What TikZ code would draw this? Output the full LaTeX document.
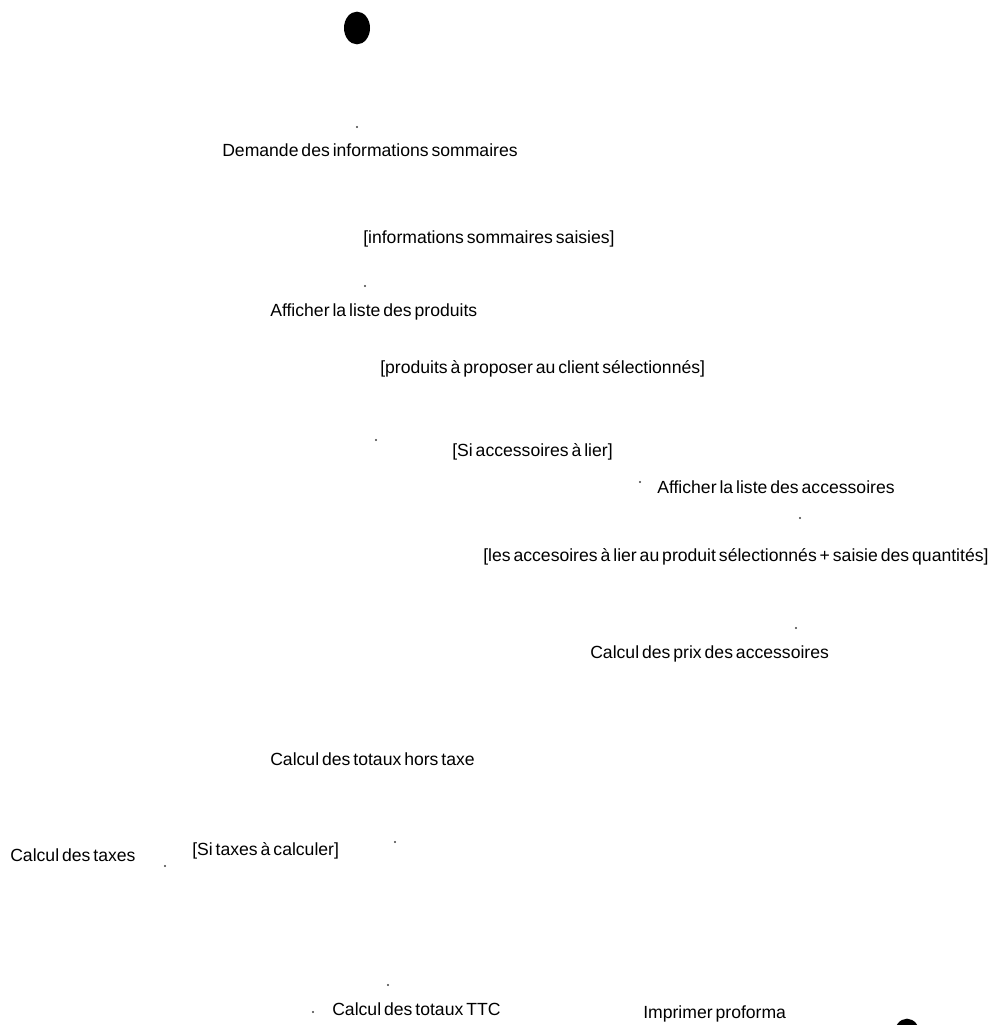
\documentclass[tikz,border=0pt]{standalone}
\usepackage{fontspec}
\setmainfont{Liberation Sans}[WordSpace=0.6]
\usetikzlibrary{shapes.geometric}
\begin{document}
\begin{tikzpicture}[x=0.75pt, y=-0.75pt,
  lbl/.style={anchor=mid west, inner sep=0pt, font=\fontsize{13.2}{15}\selectfont},
  pin/.style={circle, fill=black!75, inner sep=0pt, minimum size=1.6pt},
  terminal/.style={ellipse, fill=black, inner sep=0pt, minimum width=19.5pt, minimum height=24.5pt}]
\useasboundingbox (0,0) rectangle (994,1025);
\clip (0,0) rectangle (994,1025);

% initial state
\node[terminal] (start) at (357,28) {};

% request of summary information
\node[pin] (p1) at (357,127) {};
\node[lbl] (demande) at (222,153) {Demande des informations sommaires};
\node[lbl] (g1) at (363,240) {[informations sommaires saisies]};

% product list
\node[pin] (p2) at (365,286) {};
\node[lbl] (produits) at (270,313) {Afficher la liste des produits};
\node[lbl] (g2) at (380,370) {[produits à proposer au client sélectionnés]};

% accessories
\node[pin] (p3) at (376,440) {};
\node[lbl] (g3) at (452,453) {[Si accessoires à lier]};
\node[pin] (p4) at (640,482) {};
\node[lbl] (accessoires) at (657,490) {Afficher la liste des accessoires};
\node[pin] (p5) at (800,518) {};
\node[lbl] (g4) at (483,558) {[les accesoires à lier au produit sélectionnés + saisie des quantités]};
\node[pin] (p6) at (796,628) {};
\node[lbl] (prix) at (590,655) {Calcul des prix des accessoires};

% totals
\node[lbl] (ht) at (270,762) {Calcul des totaux hors taxe};
\node[lbl] (taxes) at (10,858) {Calcul des taxes};
\node[pin] (p7) at (165,866) {};
\node[lbl] (g5) at (192,852) {[Si taxes à calculer]};
\node[pin] (p8) at (395,842) {};
\node[pin] (p9) at (388,985) {};
\node[pin] (p10) at (313,1012) {};
\node[lbl] (ttc) at (332,1012) {Calcul des totaux TTC};
\node[lbl] (print) at (643,1015) {Imprimer proforma};

% final state
\node[terminal] (end) at (907,1035) {};
\end{tikzpicture}
\end{document}
